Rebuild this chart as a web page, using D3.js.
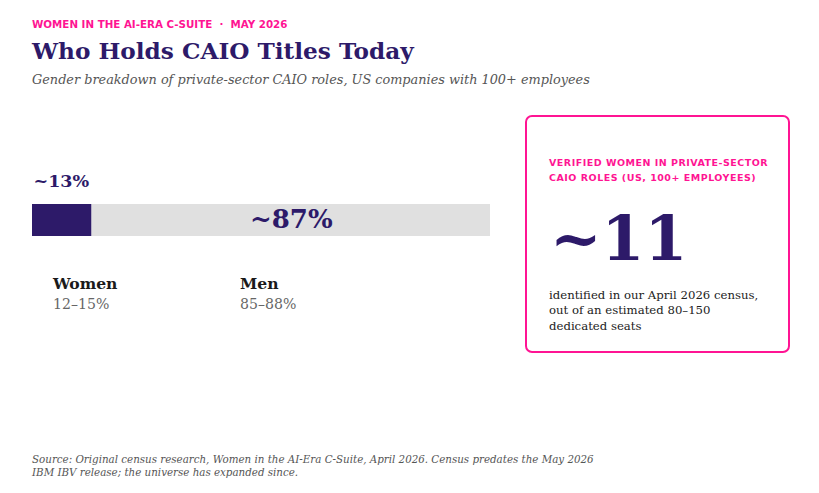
<!DOCTYPE html>
<html>
<head>
<meta charset="utf-8">
<script src="https://cdn.jsdelivr.net/npm/d3@7"></script>
<style>
  body { margin: 0; background: #fff; }
  svg { display: block; }
  text { white-space: pre; }
</style>
</head>
<body>
<div id="chart"></div>
<script>
const categories = ["Women", "Men"];
const shares = [13, 87];
const shareLabels = ["~13%", "~87%"];
const ranges = ["12–15%", "85–88%"];
const verifiedWomen = 11;
const seatRange = "80–150";

const width = 819;
const height = 493;
const purple = "#2d1a69";
const pink = "#ff1493";
const serif = "'DejaVu Serif', serif";
const sans = "'DejaVu Sans', sans-serif";

const svg = d3
  .select("#chart")
  .append("svg")
  .attr("width", width)
  .attr("height", height);

// header
svg.append("text")
  .attr("x", 32).attr("y", 28)
  .attr("font-family", sans).attr("font-weight", "bold")
  .attr("font-size", 10.3).attr("fill", pink)
  .text("WOMEN IN THE AI-ERA C-SUITE  ·  MAY 2026");

svg.append("text")
  .attr("x", 32).attr("y", 59)
  .attr("font-family", serif).attr("font-weight", "bold")
  .attr("font-size", 23.2).attr("fill", purple)
  .text("Who Holds CAIO Titles Today");

svg.append("text")
  .attr("x", 32).attr("y", 84)
  .attr("font-family", serif).attr("font-style", "italic")
  .attr("font-size", 12.85).attr("fill", "#555")
  .text("Gender breakdown of private-sector CAIO roles, US companies with 100+ employees");

// stacked bar
const x = d3.scaleLinear().domain([0, 100]).range([32, 490]);
const barY = 204;
const barH = 32;

let acc = 0;
const segs = shares.map((v, i) => {
  const s = { cat: categories[i], start: acc, end: acc + v, label: shareLabels[i], range: ranges[i] };
  acc += v;
  return s;
});

svg.append("g")
  .selectAll("rect")
  .data(segs)
  .enter()
  .append("rect")
  .attr("x", (d) => x(d.start))
  .attr("y", barY)
  .attr("width", (d) => x(d.end) - x(d.start))
  .attr("height", barH)
  .attr("fill", (d, i) => (i === 0 ? purple : "#e0e0e0"));

// small share label sits above the bar, big one inside
svg.append("text")
  .attr("x", x(segs[0].start) + 1.5).attr("y", 187)
  .attr("font-family", serif).attr("font-weight", "bold")
  .attr("font-size", 17.5).attr("fill", purple)
  .text(segs[0].label);

svg.append("text")
  .attr("x", (x(segs[1].start) + x(segs[1].end)) / 2 + 0.5).attr("y", 228)
  .attr("text-anchor", "middle")
  .attr("font-family", serif).attr("font-weight", "bold")
  .attr("font-size", 26).attr("fill", purple)
  .text(segs[1].label);

// legend
const legX = [53, 240];
const leg = svg.append("g")
  .selectAll("g")
  .data(segs)
  .enter()
  .append("g")
  .attr("transform", (d, i) => `translate(${legX[i]},0)`);

leg.append("text")
  .attr("y", 289)
  .attr("font-family", serif).attr("font-weight", "bold")
  .attr("font-size", 15.6).attr("fill", "#1a1a1a")
  .text((d) => d.cat);

leg.append("text")
  .attr("y", 309)
  .attr("font-family", serif)
  .attr("font-size", 14.1).attr("fill", "#666")
  .text((d) => d.range);

// callout card
svg.append("rect")
  .attr("x", 526).attr("y", 116)
  .attr("width", 263).attr("height", 236)
  .attr("rx", 6)
  .attr("fill", "#fff")
  .attr("stroke", pink)
  .attr("stroke-width", 2);

const kicker = ["VERIFIED WOMEN IN PRIVATE-SECTOR", "CAIO ROLES (US, 100+ EMPLOYEES)"];
svg.append("g")
  .selectAll("text")
  .data(kicker)
  .enter()
  .append("text")
  .attr("x", 549).attr("y", (d, i) => 166 + i * 15)
  .attr("font-family", sans).attr("font-weight", "bold")
  .attr("font-size", 9.5).attr("letter-spacing", 0.5).attr("fill", pink)
  .text((d) => d);

svg.append("text")
  .attr("x", 550).attr("y", 260)
  .attr("font-family", serif).attr("font-weight", "bold")
  .attr("font-size", 61.6).attr("fill", purple)
  .text("~" + verifiedWomen);

const body = ["identified in our April 2026 census,", "out of an estimated " + seatRange, "dedicated seats"];
svg.append("g")
  .selectAll("text")
  .data(body)
  .enter()
  .append("text")
  .attr("x", 549).attr("y", (d, i) => 298.5 + i * 15.5)
  .attr("font-family", serif)
  .attr("font-size", 11.7).attr("fill", "#222")
  .text((d) => d);

// source
const source = [
  "Source: Original census research, Women in the AI-Era C-Suite, April 2026. Census predates the May 2026",
  "IBM IBV release; the universe has expanded since."
];
svg.append("g")
  .selectAll("text")
  .data(source)
  .enter()
  .append("text")
  .attr("x", 32).attr("y", (d, i) => 462.5 + i * 13)
  .attr("font-family", serif).attr("font-style", "italic")
  .attr("font-size", 10.3).attr("fill", "#555")
  .text((d) => d);
</script>
</body>
</html>
